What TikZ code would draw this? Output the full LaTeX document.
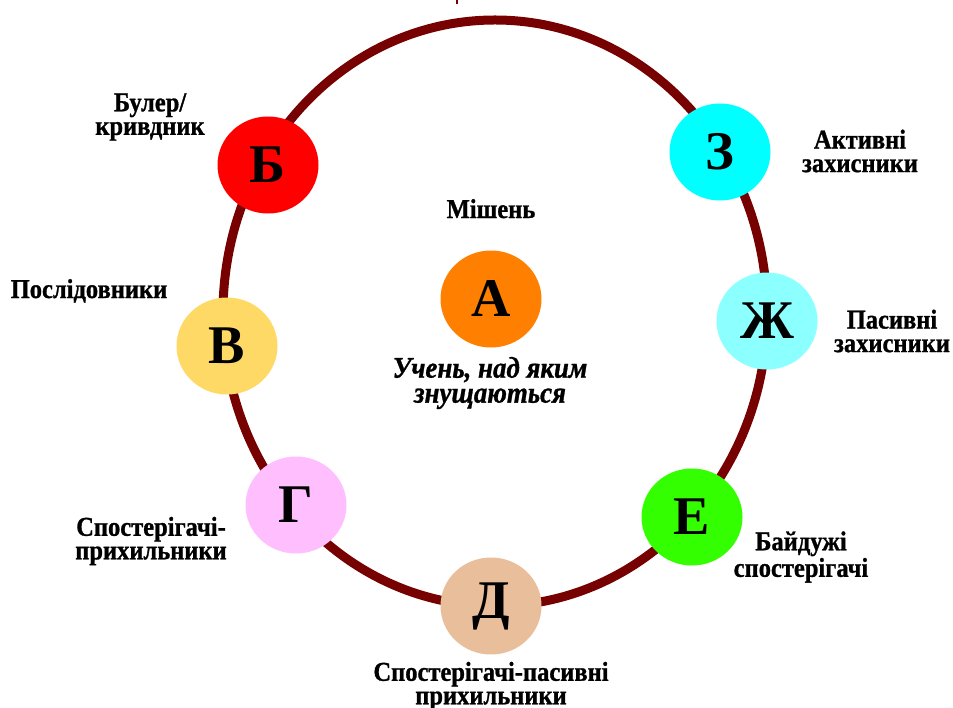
\documentclass[tikz,border=0pt]{standalone}
\usepackage{fontspec}
\setmainfont{Liberation Serif}
\newfontfamily\lblfont[FakeStretch=0.9, BoldFeatures={FakeBold=1}, BoldItalicFeatures={FakeBold=1}]{Liberation Serif}
\usetikzlibrary{shapes, positioning, calc}

\definecolor{ringred}{HTML}{770000}
\definecolor{colA}{HTML}{FF8000}
\definecolor{colB}{HTML}{FF0000}
\definecolor{colV}{HTML}{FFD966}
\definecolor{colG}{HTML}{FFBFFF}
\definecolor{colD}{HTML}{E8BE9B}
\definecolor{colE}{HTML}{33FF00}
\definecolor{colZh}{HTML}{8CFFFF}
\definecolor{colZ}{HTML}{00FFFF}

\tikzset{
    role/.style={ellipse, minimum width=20.2mm, minimum height=19.4mm, inner sep=0pt,
        font=\fontsize{31}{31}\selectfont\bfseries},
    rolename/.style={align=center, inner sep=0pt, font=\lblfont\fontsize{15.5}{13.4}\selectfont\bfseries}
}

\begin{document}
\begin{tikzpicture}[x=0.2mm, y=-0.2mm]
    \useasboundingbox (0,0) rectangle (953,707);

    % Ring
    \draw[ringred, line width=1.8mm] (495,313) ellipse [x radius=54.4mm, y radius=58.6mm];
    \draw[ringred, line width=0.4mm] (457,0) -- (457,4);

    % Target in the middle
    \node[role, fill=colA] (target) at (491,299) {А};
    \node[rolename] (targetTxt) [anchor=base] at (491,218) {Мішень};
    \node[rolename, font=\lblfont\fontsize{17}{14.2}\selectfont\bfseries\itshape] (targetSub) at (490,383) {Учень, над яким\\знущаються};

    % Roles on the ring
    \node[role, fill=colB] (bully) at (268,165) {Б};
    \node[role, fill=colV] (followers) at (227,346) {В};
    \node[role, fill=colG] (supporters) at (296,505) {Г};
    \node[role, fill=colD] (passive) at (491,606) {Д};
    \node[role, fill=colE] (bystanders) at (692,517) {Е};
    \node[role, fill=colZh] (possdef) at (767,321) {Ж};
    \node[role, fill=colZ] (defenders) at (720,152) {З};

    % Role names
    \node[rolename] (bullyTxt) at (150,117) {Булер/\\кривдник};
    \node[rolename] (followersTxt) [anchor=base] at (89,298) {Послідовники};
    \node[rolename] (supportersTxt) at (151,541) {Спостерігачі-\\прихильники};
    \node[rolename] (passiveTxt) at (491,686) {Спостерігачі-пасивні\\прихильники};
    \node[rolename] (bystandersTxt) at (801,557) {Байдужі\\спостерігачі};
    \node[rolename] (possdefTxt) at (892,331) {Пасивні\\захисники};
    \node[rolename] (defendersTxt) at (860,151) {Активні\\захисники};
\end{tikzpicture}
\end{document}
